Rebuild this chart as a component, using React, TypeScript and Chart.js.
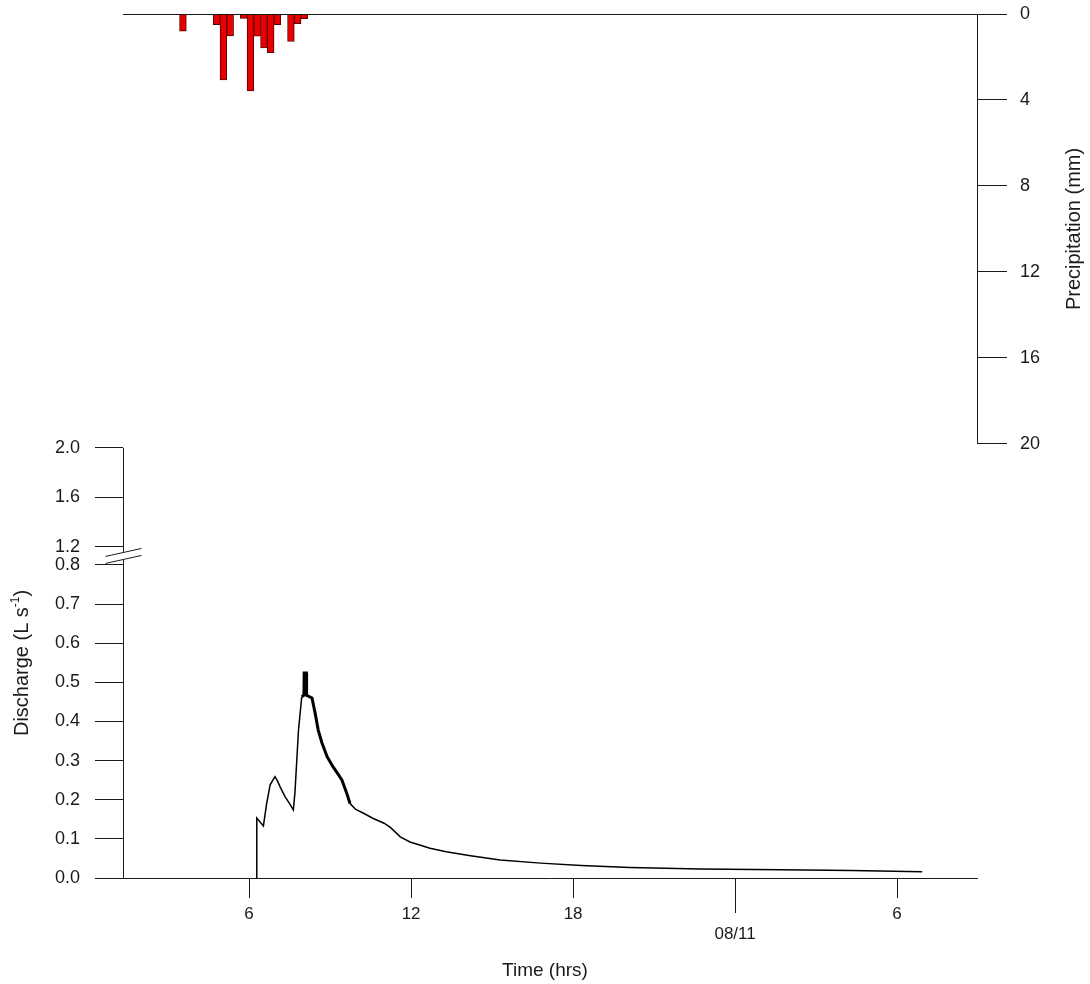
import React, { useEffect, useRef } from "react";
import { Chart, registerables } from "chart.js";

Chart.register(...registerables);

// ---- data ----
const precipTimes = [3.55, 4.8, 5.05, 5.3, 5.8, 6.05, 6.3, 6.55, 6.8, 7.05, 7.55, 7.8, 8.05];
const precipMm = [0.8, 0.5, 3.07, 1.02, 0.2, 3.58, 1.03, 1.58, 1.8, 0.5, 1.28, 0.45, 0.22];

const flowTimes = [
  6.27, 6.285, 6.53, 6.65, 6.78, 6.88, 6.96, 7.05, 7.15, 7.33, 7.5, 7.64, 7.7, 7.83, 7.95, 8.03,
  8.04, 8.12, 8.13, 8.33, 8.45, 8.56, 8.7, 8.89, 9.1, 9.3, 9.44, 9.6, 9.74, 9.95, 10.22, 10.6,
  11.0, 11.22, 11.33, 11.6, 11.96, 12.7, 13.3, 14.2, 15.3, 16.8, 18.3, 20.1, 22.7, 25.7, 28.3, 30.93,
];
const flowLs = [
  0, 0.153, 0.133, 0.19, 0.238, 0.25, 0.259, 0.248, 0.233, 0.208, 0.19, 0.174, 0.22, 0.378, 0.463, 0.467,
  0.524, 0.524, 0.467, 0.46, 0.42, 0.378, 0.345, 0.31, 0.285, 0.265, 0.25, 0.22, 0.19, 0.175, 0.166, 0.152,
  0.14, 0.13, 0.123, 0.105, 0.092, 0.076, 0.067, 0.057, 0.046, 0.038, 0.032, 0.027, 0.023, 0.021, 0.019, 0.016,
];

const xTickValues = [6, 12, 18, 24, 30];
const xTickLabels: (string | string[])[] = ["6", "12", "18", ["", "08/11"], "6"];
const dayTick = 24;

const qLowerTicks = [0, 0.1, 0.2, 0.3, 0.4, 0.5, 0.6, 0.7, 0.8];
const qUpperTicks = [1.2, 1.6, 2.0];
const precipTicks = [0, 4, 8, 12, 16, 20];

// ---- scale settings ----
const X_MIN = 1.33;
const X_MAX = 32.96;
const BREAK_LO = 0.8;
const BREAK_HI = 1.2;
const BREAK_GAP = 0.0457;
const UPPER_SCALE = 0.3166;
const Q_VMAX = 2.2075;
const P_MAX = 40.19;

const toVirtual = (q: number) =>
  q <= BREAK_LO ? q : BREAK_LO + BREAK_GAP + (q - BREAK_HI) * UPPER_SCALE;

const qTickValues = [...qLowerTicks, ...qUpperTicks];
const qTickLabels = qTickValues.map((v) => v.toFixed(1));

const FONT = "'Liberation Sans', Arial, sans-serif";
const NARROW = "'Liberation Sans Narrow', 'Arial Narrow', 'Liberation Sans', sans-serif";
const INK = "#1a1a1a";

const overlay = {
  id: "overlay",
  afterDraw(chart: any) {
    const { ctx, chartArea, scales } = chart;
    const x = scales.x;
    const yQ = scales.yQ;
    const yP = scales.yP;
    ctx.save();
    ctx.strokeStyle = INK;
    ctx.lineWidth = 1;
    const L = Math.round(chartArea.left) + 0.5;
    const R = Math.round(chartArea.right) + 0.5;
    const T = Math.round(chartArea.top) + 0.5;
    const B = chartArea.bottom;

    // top baseline of precipitation panel
    ctx.beginPath();
    ctx.moveTo(chartArea.left, T);
    ctx.lineTo(chartArea.right, T);
    // right precipitation axis
    ctx.moveTo(R, chartArea.top);
    ctx.lineTo(R, yP.getPixelForValue(20));
    ctx.stroke();

    // left discharge axis with break
    const yTop = yQ.getPixelForValue(toVirtual(2.0));
    const yHi = yQ.getPixelForValue(toVirtual(BREAK_HI));
    const yLo = yQ.getPixelForValue(BREAK_LO);
    const mid = (yHi + yLo) / 2;
    ctx.beginPath();
    ctx.moveTo(L, yTop);
    ctx.lineTo(L, mid - 4);
    ctx.moveTo(L, mid + 4);
    ctx.lineTo(L, B);
    ctx.stroke();
    ctx.beginPath();
    ctx.moveTo(L - 18, mid + 0.5);
    ctx.lineTo(L + 18, mid - 7.5);
    ctx.moveTo(L - 18, mid + 7.5);
    ctx.lineTo(L + 18, mid - 0.5);
    ctx.stroke();

    // long day tick
    const xd = Math.round(x.getPixelForValue(dayTick)) + 0.5;
    ctx.beginPath();
    ctx.moveTo(xd, B);
    ctx.lineTo(xd, B + 35);
    ctx.stroke();

    // titles
    ctx.fillStyle = INK;
    ctx.textBaseline = "middle";
    ctx.textAlign = "center";
    ctx.font = `19px ${FONT}`;
    ctx.fillText("Time (hrs)", (chartArea.left + chartArea.right) / 2 - 5, B + 93);

    ctx.save();
    ctx.font = `20px ${FONT}`;
    ctx.translate(1074, (chartArea.top + yP.getPixelForValue(20)) / 2);
    ctx.rotate(-Math.PI / 2);
    ctx.fillText("Precipitation (mm)", 0, 0);
    ctx.restore();

    ctx.save();
    ctx.translate(22, (yTop + B) / 2);
    ctx.rotate(-Math.PI / 2);
    ctx.textAlign = "left";
    const main1 = "Discharge (L s";
    const sup = "-1";
    const main2 = ")";
    ctx.font = `20px ${FONT}`;
    const w1 = ctx.measureText(main1).width;
    const w3 = ctx.measureText(main2).width;
    ctx.font = `12px ${FONT}`;
    const w2 = ctx.measureText(sup).width;
    let cx = -(w1 + w2 + w3) / 2;
    ctx.font = `20px ${FONT}`;
    ctx.fillText(main1, cx, 0);
    cx += w1;
    ctx.font = `12px ${FONT}`;
    ctx.fillText(sup, cx, -6);
    cx += w2;
    ctx.font = `20px ${FONT}`;
    ctx.fillText(main2, cx, 0);
    ctx.restore();

    ctx.restore();
  },
};

export default function App() {
  const ref = useRef<HTMLCanvasElement | null>(null);
  useEffect(() => {
    document.body.style.margin = "0";
    const canvas = ref.current;
    if (!canvas) return;
    const chart = new Chart(canvas, {
      type: "bar",
      data: {
        datasets: [
          {
            type: "bar",
            label: "Precipitation",
            yAxisID: "yP",
            data: precipTimes.map((t, i) => ({ x: t, y: precipMm[i] })),
            backgroundColor: "#e80000",
            borderColor: "#5a0000",
            borderWidth: 1,
            barPercentage: 1,
            categoryPercentage: 1,
          } as any,
          {
            type: "line",
            label: "Discharge",
            yAxisID: "yQ",
            data: flowTimes.map((t, i) => ({ x: t, y: toVirtual(flowLs[i]) })),
            borderColor: "#000",
            borderWidth: 1.5,
            pointRadius: 0,
            tension: 0,
            segment: {
              borderWidth: (c: any) =>
                c.p0.parsed.x >= 7.95 && c.p0.parsed.x < 9.7 ? 3 : 1.5,
            },
          } as any,
        ],
      },
      options: {
        responsive: false,
        animation: false,
        devicePixelRatio: 1,
        layout: { padding: { top: 14, left: 0, right: 0, bottom: 0 } },
        plugins: { legend: { display: false }, tooltip: { enabled: false } },
        scales: {
          x: {
            type: "linear",
            position: "bottom",
            offset: false,
            min: X_MIN,
            max: X_MAX,
            afterBuildTicks: (s: any) => {
              s.ticks = xTickValues.map((v) => ({ value: v }));
            },
            afterFit: (s: any) => {
              s.height = 106;
              s.paddingLeft = 0;
              s.paddingRight = 0;
            },
            ticks: {
              autoSkip: false,
              maxRotation: 0,
              minRotation: 0,
              padding: 6,
              color: INK,
              font: { family: NARROW, size: 17 },
              callback: (_v: any, i: number) => xTickLabels[i],
            },
            grid: { offset: false, drawOnChartArea: false, drawTicks: true, tickLength: 20, color: INK },
            border: { display: true, color: INK, width: 1 },
          },
          yQ: {
            type: "linear",
            position: "left",
            min: 0,
            max: Q_VMAX,
            afterBuildTicks: (s: any) => {
              s.ticks = qTickValues.map((v) => ({ value: toVirtual(v) }));
            },
            afterFit: (s: any) => {
              s.width = 123;
              s.paddingTop = 0;
              s.paddingBottom = 0;
            },
            ticks: {
              autoSkip: false,
              padding: 15,
              color: INK,
              font: { family: FONT, size: 18 },
              callback: (_v: any, i: number) => qTickLabels[i],
            },
            grid: { drawOnChartArea: false, drawTicks: true, tickLength: 28, color: INK },
            border: { display: false },
          },
          yP: {
            type: "linear",
            position: "right",
            reverse: true,
            min: 0,
            max: P_MAX,
            afterBuildTicks: (s: any) => {
              s.ticks = precipTicks.map((v) => ({ value: v }));
            },
            afterFit: (s: any) => {
              s.width = 113;
              s.paddingTop = 0;
              s.paddingBottom = 0;
            },
            ticks: {
              autoSkip: false,
              padding: 13,
              color: INK,
              font: { family: FONT, size: 18 },
              callback: (v: any) => String(v),
            },
            grid: { drawOnChartArea: false, drawTicks: true, tickLength: 30, color: INK },
            border: { display: false },
          },
        },
      } as any,
      plugins: [overlay],
    });
    return () => chart.destroy();
  }, []);
  return (
    <div style={{ width: 1090, height: 984, background: "#fff" }}>
      <canvas ref={ref} width={1090} height={984} style={{ width: 1090, height: 984, display: "block" }} />
    </div>
  );
}
